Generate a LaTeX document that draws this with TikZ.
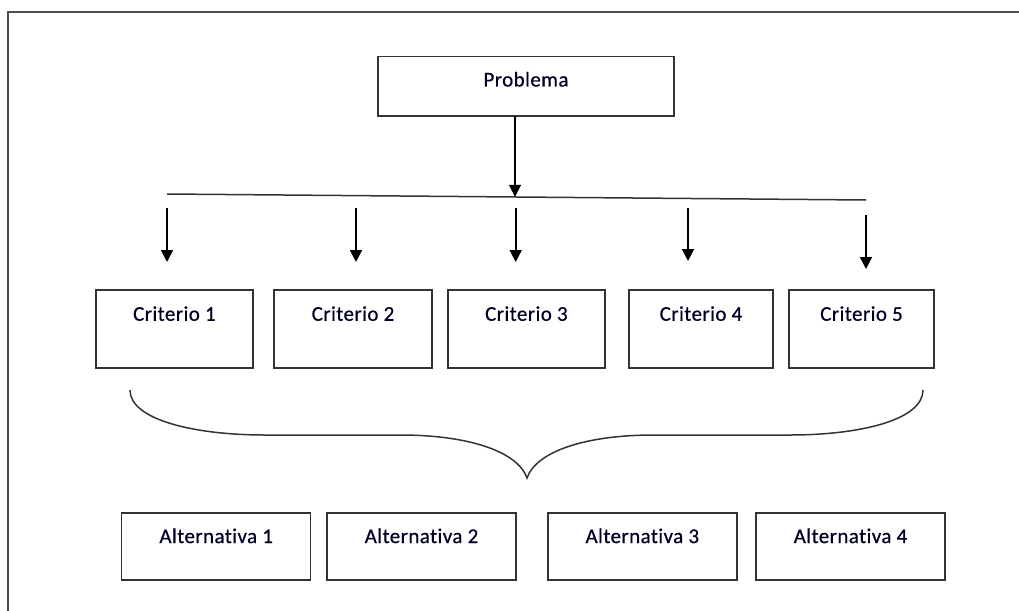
\documentclass[tikz,border=0pt]{standalone}
\usepackage{fontspec}
\setmainfont[LetterSpace=2,FakeBold=0.6,Ligatures={NoCommon}]{Carlito}
\usetikzlibrary{arrows.meta}
\begin{document}
\begin{tikzpicture}[x=1pt,y=-1pt,
  box/.style={draw=black!80, line width=1.5pt, rectangle, inner xsep=0pt, inner ysep=0pt, anchor=north, font=\fontsize{21}{24}\selectfont, text=black!85!blue},
  crit/.style={box, text height=31pt, text depth=47pt},
  alt/.style={box, text height=30.3pt, text depth=36.7pt, minimum width=189pt},
  arr/.style={line width=1.8pt, -{Triangle[width=12pt,length=12pt]}},
  frame/.style={draw=black!70, line width=1.5pt}]
\useasboundingbox (0,0) rectangle (1019,610);
% frame
\draw[frame] (8,615) -- (8,12) -- (1025,12);
% problem
\node[box, text height=30pt, text depth=29.5pt, minimum width=296pt] (p) at (526,55.7) {Problema};
% criteria
\node[crit, minimum width=157.3pt] (c1) at (174.4,289) {Criterio 1};
\node[crit, minimum width=158pt] (c2) at (353,289) {Criterio 2};
\node[crit, minimum width=157.3pt] (c3) at (526.4,289) {Criterio 3};
\node[crit, minimum width=144pt] (c4) at (701,289) {Criterio 4};
\node[crit, minimum width=145pt] (c5) at (861.5,289) {Criterio 5};
% alternatives
\node[alt] (a1) at (216.2,512) {Alternativa 1};
\node[alt] (a2) at (421.5,512) {Alternativa 2};
\node[alt] (a3) at (642.3,512) {Alternativa 3};
\node[alt] (a4) at (850.5,512) {Alternativa 4};
% horizontal bar
\coordinate (hl) at (167,194);
\coordinate (hr) at (866,200);
\coordinate (hm) at (515,196.8);
\draw[line width=1.5pt, draw=black!80] (hl) -- (hr);
\coordinate (ps) at (515,116);
\draw[arr] (ps) -- (hm);
% criteria arrows
\coordinate (s1) at (167,208); \coordinate (e1) at (167,262);
\coordinate (s2) at (356,208); \coordinate (e2) at (356,262);
\coordinate (s3) at (515.7,208); \coordinate (e3) at (515.7,262);
\coordinate (s4) at (688,208); \coordinate (e4) at (688,261);
\coordinate (s5) at (866,215); \coordinate (e5) at (866,269);
\foreach \i in {1,...,5} {\draw[arr] (s\i) -- (e\i);}
% brace
\coordinate (bl) at (130,390);
\coordinate (bt) at (527,478);
\coordinate (br) at (923,390);
\draw[line width=1.5pt, draw=black!80]
  (bl) .. controls (130,420) and (195,435) .. (265,435) -- (400,435)
  .. controls (470,435) and (518,452) .. (bt)
  .. controls (536,452) and (584,435) .. (654,435) -- (790,435)
  .. controls (860,435) and (923,420) .. (br);
\end{tikzpicture}
\end{document}
